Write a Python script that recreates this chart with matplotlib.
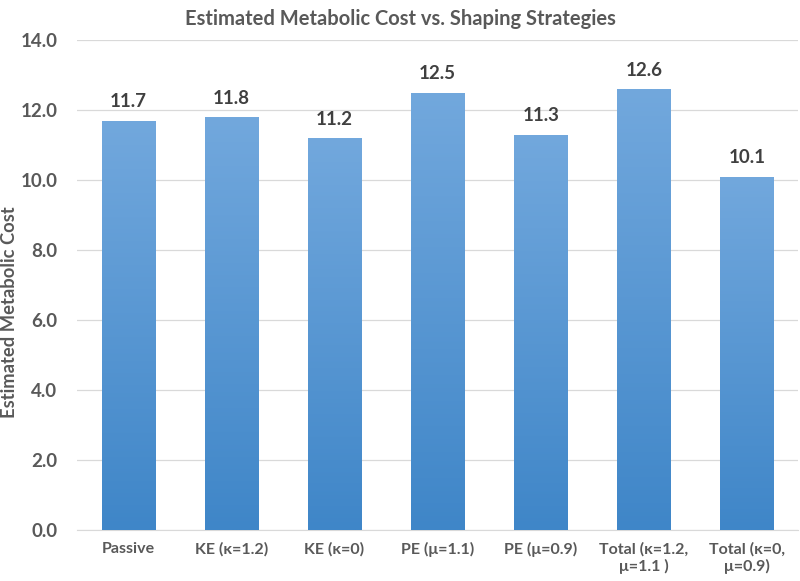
import numpy as np
import matplotlib
matplotlib.use("Agg")
import matplotlib.pyplot as plt
from matplotlib.colors import LinearSegmentedColormap

categories = ["Passive", "KE (κ=1.2)", "KE (κ=0)", "PE (μ=1.1)", "PE (μ=0.9)",
              "Total (κ=1.2,\nμ=1.1 )", "Total (κ=0,\nμ=0.9)"]
values = [11.7, 11.8, 11.2, 12.5, 11.3, 12.6, 10.1]
yticks = [0, 2, 4, 6, 8, 10, 12, 14]

plt.rcParams['font.family'] = ['Lato', 'DejaVu Sans']
gray = '#595959'

fig = plt.figure(figsize=(8, 5.81), dpi=100)
ax = fig.add_axes([0.096, 0.088, 0.902, 0.843])

x = np.arange(len(categories))
bars = ax.bar(x, values, width=0.52, color='#5b9bd5', zorder=2)

cmap = LinearSegmentedColormap.from_list('g', ['#3f86c8', '#72a8dd'])
grad = np.linspace(0, 1, 256).reshape(-1, 1)
for b in bars:
    x0, y0 = b.get_x(), b.get_y()
    w, h = b.get_width(), b.get_height()
    im = ax.imshow(grad, extent=[x0, x0 + w, y0, y0 + h], origin='lower',
                   cmap=cmap, aspect='auto', zorder=3)
    im.set_clip_path(b)

for xi, v in zip(x, values):
    ax.text(xi, v + 0.3, f"{v:.1f}", ha='center', va='bottom', fontsize=13.5,
            fontweight='bold', color='#404040')

ax.set_xlim(-0.5, len(categories) - 0.5)
ax.set_ylim(0, 14)
ax.set_yticks(yticks)
ax.set_yticklabels([f"{t:.1f}" for t in yticks], fontsize=13.5, fontweight='bold', color=gray)
ax.set_xticks(x)
ax.set_xticklabels(categories, fontsize=11.5, fontweight='bold', color=gray, va='top')
ax.tick_params(axis='both', length=0)
ax.tick_params(axis='y', pad=14)
ax.tick_params(axis='x', pad=9)
ax.grid(axis='y', color='#d9d9d9', linewidth=0.9, zorder=0)
ax.set_axisbelow(True)
for s in ['top', 'right', 'left']:
    ax.spines[s].set_visible(False)
ax.spines['bottom'].set_color('#d9d9d9')

fig.text(0.012, 0.463, "Estimated Metabolic Cost", rotation=90, ha='center', va='center',
         fontsize=13.2, fontweight='bold', color=gray)
fig.text(0.5, 0.985, "Estimated Metabolic Cost vs. Shaping Strategies", ha='center', va='top',
         fontsize=14.5, fontweight='bold', color=gray)

fig.savefig("out.png", dpi=100)
